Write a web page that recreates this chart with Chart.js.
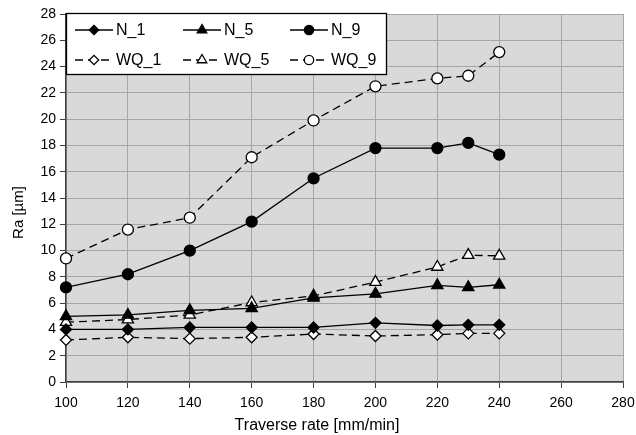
<!DOCTYPE html>
<html>
<head>
<meta charset="utf-8">
<script src="https://cdn.jsdelivr.net/npm/chart.js@4.4.0/dist/chart.umd.min.js"></script>
<style>
  html, body { margin: 0; padding: 0; background: #fff; }
  #wrap { width: 636px; height: 435px; }
</style>
</head>
<body>
<div id="wrap"><canvas id="raChart" width="636" height="435"></canvas></div>
<script>
// traverse rate [mm/min]
const rates = [100, 120, 140, 160, 180, 200, 220, 230, 240];

// Ra [um]
const n1  = [4.0, 4.0, 4.15, 4.15, 4.15, 4.5, 4.3, 4.35, 4.35];
const n5  = [5.0, 5.1, 5.45, 5.6, 6.4, 6.7, 7.35, 7.2, 7.4];
const n9  = [7.2, 8.2, 10.0, 12.2, 15.5, 17.8, 17.8, 18.2, 17.3];
const wq1 = [3.2, 3.4, 3.3, 3.4, 3.65, 3.5, 3.6, 3.7, 3.7];
const wq5 = [4.55, 4.75, 5.1, 6.05, 6.55, 7.6, 8.75, 9.65, 9.6];
const wq9 = [9.4, 11.6, 12.5, 17.1, 19.9, 22.5, 23.1, 23.3, 25.1];

const seriesNames = ['N_1', 'N_5', 'N_9', 'WQ_1', 'WQ_5', 'WQ_9'];
const xTitle = 'Traverse rate [mm/min]';
const yTitle = 'Ra [µm]';

const DASH = [8, 5];
const FONT = '"Liberation Sans", Arial, sans-serif';

function makeSet(label, values, style, radius, filled, dashed) {
  return {
    label,
    data: rates.map((r, i) => ({ x: r, y: values[i] })),
    borderColor: '#000',
    borderWidth: 1.3,
    borderDash: dashed ? DASH : [],
    pointStyle: style,
    pointRadius: radius,
    pointBorderColor: '#000',
    pointBorderWidth: 1.3,
    pointBackgroundColor: filled ? '#000' : '#fff',
    tension: 0,
    clip: false
  };
}

const datasets = [
  makeSet(seriesNames[0], n1, 'rectRot', 5.5, true, false),
  makeSet(seriesNames[1], n5, 'triangle', 6.5, true, false),
  makeSet(seriesNames[2], n9, 'circle', 5.5, true, false),
  makeSet(seriesNames[3], wq1, 'rectRot', 5.5, false, true),
  makeSet(seriesNames[4], wq5, 'triangle', 6.5, false, true),
  makeSet(seriesNames[5], wq9, 'circle', 5.5, false, true)
];

// grey plot background
const plotBg = {
  id: 'plotBg',
  beforeDraw(chart) {
    const { ctx, chartArea: a } = chart;
    ctx.save();
    ctx.fillStyle = '#d9d9d9';
    ctx.fillRect(a.left, a.top, a.right - a.left, a.bottom - a.top);
    ctx.restore();
  }
};

// axis titles centred on the whole picture, like the excel original
const axisTitles = {
  id: 'axisTitles',
  afterDraw(chart) {
    const { ctx, width, height } = chart;
    ctx.save();
    ctx.fillStyle = '#000';
    ctx.textAlign = 'center';
    ctx.textBaseline = 'middle';
    ctx.font = '16px ' + FONT;
    ctx.fillText(xTitle, width / 2 - 1, 426);
    ctx.translate(19, height / 2 - 5);
    ctx.rotate(-Math.PI / 2);
    ctx.font = '15px ' + FONT;
    ctx.fillText(yTitle, 0, 0);
    ctx.restore();
  }
};

// excel-like legend box inside the plot
const boxLegend = {
  id: 'boxLegend',
  afterDraw(chart) {
    const { ctx } = chart;
    const x0 = 66, y0 = 13, w = 320, h = 61;
    const cols = [75, 183, 290];
    const rows = [30, 60];
    ctx.save();
    ctx.fillStyle = '#fff';
    ctx.fillRect(x0, y0, w, h);
    ctx.strokeStyle = '#000';
    ctx.lineWidth = 1.3;
    ctx.strokeRect(x0 + 0.5, y0 + 0.5, w, h);
    ctx.font = '16px ' + FONT;
    ctx.textBaseline = 'middle';
    chart.data.datasets.forEach((ds, i) => {
      const x = cols[i % 3], y = rows[Math.floor(i / 3)];
      ctx.strokeStyle = '#000';
      ctx.lineWidth = 1.3;
      ctx.setLineDash(ds.borderDash);
      ctx.beginPath();
      ctx.moveTo(x, y);
      ctx.lineTo(x + 38, y);
      ctx.stroke();
      ctx.setLineDash([]);
      ctx.fillStyle = ds.pointBackgroundColor;
      Chart.helpers.drawPoint(ctx, {
        pointStyle: ds.pointStyle,
        radius: ds.pointRadius * 0.85,
        rotation: 0,
        borderWidth: ds.pointBorderWidth
      }, x + 19, y);
      ctx.fillStyle = '#000';
      ctx.fillText(ds.label, x + 41, y + 1);
    });
    ctx.restore();
  }
};

new Chart(document.getElementById('raChart'), {
  type: 'line',
  data: { datasets },
  plugins: [plotBg, boxLegend, axisTitles],
  options: {
    responsive: false,
    animation: false,
    layout: { padding: { top: 14, right: 0, left: 0, bottom: 0 } },
    plugins: { legend: { display: false }, tooltip: { enabled: false } },
    scales: {
      x: {
        type: 'linear',
        min: 100,
        max: 280,
        ticks: {
          stepSize: 20,
          color: '#000',
          font: { family: FONT, size: 14 },
          maxRotation: 0,
          padding: 7
        },
        grid: { color: '#a6a6a6', tickColor: '#404040', tickLength: 6 },
        border: { color: '#404040', width: 1.5 },
        afterFit(scale) {
          scale.height = 53;
          scale.paddingRight = 13;
        }
      },
      y: {
        min: 0,
        max: 28,
        ticks: {
          stepSize: 2,
          color: '#000',
          font: { family: FONT, size: 14 },
          padding: 4
        },
        grid: { color: '#a6a6a6', tickColor: '#404040', tickLength: 6 },
        border: { color: '#404040', width: 1.5 },
        afterFit(scale) { scale.width = 66; }
      }
    }
  }
});
</script>
</body>
</html>
